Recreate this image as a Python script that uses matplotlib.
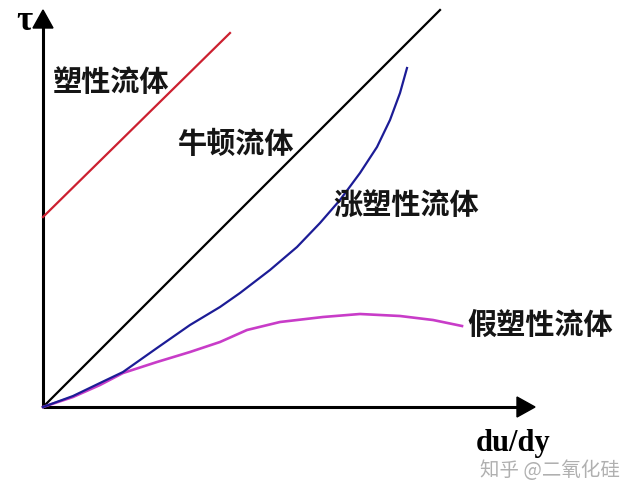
import numpy as np
import matplotlib
matplotlib.use('Agg')
import matplotlib.pyplot as plt

plt.rcParams['font.family'] = ['Noto Sans CJK SC', 'DejaVu Sans']

# shear rate (du/dy) vs shear stress (tau), arbitrary units
newton_x = [0.0, 39.7]
newton_y = [0.0, 39.7]

plastic_x = [0.0, 18.7]
plastic_y = [19.0, 37.4]

dilatant_x = [0.0, 3.0, 5.7, 8.0, 11.4, 14.7, 17.7, 19.7, 22.7, 25.4, 27.7,
              29.7, 31.7, 33.4, 34.7, 35.7, 36.4]
dilatant_y = [0.0, 1.1, 2.4, 3.5, 5.9, 8.2, 10.0, 11.4, 13.7, 16.0, 18.4,
              20.7, 23.4, 26.0, 28.7, 31.4, 33.9]

pseudo_x = [0.0, 3.0, 5.7, 8.0, 11.4, 14.7, 17.7, 20.4, 23.7, 28.0, 31.7,
            35.7, 39.0, 41.9]
pseudo_y = [0.0, 1.0, 2.2, 3.4, 4.5, 5.5, 6.5, 7.7, 8.5, 9.0, 9.3,
            9.1, 8.7, 8.1]

labels = ['塑性流体', '牛顿流体', '涨塑性流体', '假塑性流体']
label_pos = [(1.0, 32.5), (13.4, 26.3), (29.0, 20.2), (42.4, 8.2)]

fig = plt.figure(figsize=(6.4, 4.97), dpi=100)
ax = fig.add_axes([0, 0, 1, 1])
ax.set_xlim(-4.3, 59.7)
ax.set_ylim(-9.0, 40.7)
ax.axis('off')

# axes with arrows
ax.plot([0, 47.5], [0, 0], color='black', lw=2.2, solid_capstyle='butt')
ax.plot([0, 0], [0, 38.0], color='black', lw=2.2, solid_capstyle='butt')
ax.arrow(47.3, 0, 0.1, 0, head_width=2.0, head_length=1.8, fc='black', ec='black')
ax.arrow(0, 37.8, 0, 0.1, head_width=2.0, head_length=1.8, fc='black', ec='black')

ax.plot(plastic_x, plastic_y, color='#cc2030', lw=1.6)
ax.plot(newton_x, newton_y, color='black', lw=1.6)
ax.plot(pseudo_x, pseudo_y, color='#c83cc8', lw=1.9, solid_joinstyle='round')
ax.plot(dilatant_x, dilatant_y, color='#1c1c96', lw=1.6, solid_joinstyle='round')

for txt, (x, y) in zip(labels, label_pos):
    ax.text(x, y, txt, fontsize=21, fontweight='semibold', ha='left', va='center',
            color='#151515')

ax.text(-1.9, 38.6, 'τ', fontsize=25, fontweight='bold', family='Liberation Serif',
        ha='center', va='center')
ax.text(47.0, -3.7, 'du/dy', fontsize=22, fontweight='bold', family='Liberation Serif',
        ha='center', va='center')
ax.text(43.7, -6.4, '知乎 @二氧化硅', fontsize=14, color='#b0b0b0', ha='left', va='center')

fig.savefig('out.png', dpi=100)
